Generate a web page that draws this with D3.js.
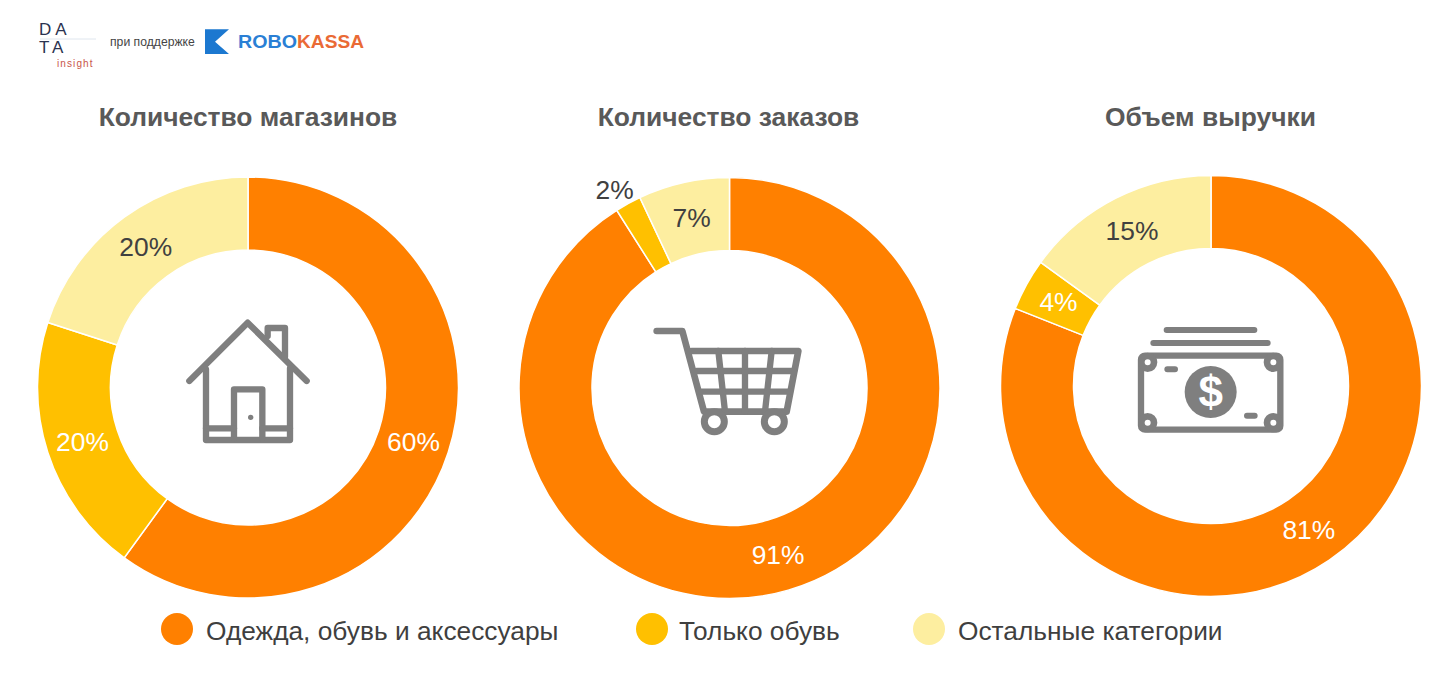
<!DOCTYPE html>
<html>
<head>
<meta charset="utf-8">
<script src="https://cdnjs.cloudflare.com/ajax/libs/d3/7.8.5/d3.min.js"></script>
<style>
    html, body { margin: 0; padding: 0; background: #fff; }
    text { font-family: "Liberation Sans", Arial, sans-serif; }
</style>
</head>
<body>
<svg id="root" width="1453" height="678"></svg>
<script>
const categories = ['Одежда, обувь и аксессуары', 'Только обувь', 'Остальные категории'];
const chartTitles = ['Количество магазинов', 'Количество заказов', 'Объем выручки'];
const shopsValues = [60, 20, 20];
const ordersValues = [91, 2, 7];
const revenueValues = [81, 4, 15];

const width = 1453;
const height = 678;
const outerRadius = 210.5;
const innerRadius = 137.5;
const gray = '#7f7f7f';

const color = d3.scaleOrdinal().domain(categories).range(['#ff8000', '#ffc000', '#fdeea0']);
const labelColor = ['#ffffff', '#ffffff', '#404040'];

const xScale = d3.scalePoint().domain(chartTitles).range([248, 1211]);
const centerY = d3.scaleOrdinal().domain(chartTitles).range([387.5, 388, 386]);
const titleX = d3.scaleOrdinal().domain(chartTitles).range([248, 728.5, 1210.5]);

const pie = d3.pie().sort(null);
const arc = d3.arc().innerRadius(innerRadius).outerRadius(outerRadius);
const outsideArc = d3.arc().innerRadius(226).outerRadius(226);

const svg = d3.select('#root');

function drawDonut(title, values) {
    const g = svg.append('g')
        .attr('class', 'donut')
        .attr('transform', `translate(${xScale(title)}, ${centerY(title)})`);

    const slices = pie(values);

    g.selectAll('path')
        .data(slices)
        .enter().append('path')
        .attr('d', arc)
        .attr('fill', (d, i) => color(categories[i]))
        .attr('stroke', '#fff')
        .attr('stroke-width', 1.5);

    // the 2% slice is too thin, its label sits outside of the ring
    g.selectAll('text')
        .data(slices)
        .enter().append('text')
        .attr('transform', d => {
            const small = d.value < 3;
            const p = small ? outsideArc.centroid(d) : arc.centroid(d);
            return `translate(${p[0] - (small ? 6 : 0)}, ${p[1]})`;
        })
        .attr('text-anchor', 'middle')
        .attr('dy', '0.35em')
        .attr('font-size', 26.4)
        .attr('fill', (d, i) => d.value < 3 ? '#404040' : labelColor[i])
        .text(d => `${d.value}%`);

    svg.append('text')
        .attr('x', titleX(title))
        .attr('y', 126)
        .attr('text-anchor', 'middle')
        .attr('font-size', 26.4)
        .attr('font-weight', 'bold')
        .attr('fill', '#595959')
        .text(title);
}

drawDonut(chartTitles[0], shopsValues);
drawDonut(chartTitles[1], ordersValues);
drawDonut(chartTitles[2], revenueValues);

// icons are traced at 3x, so each group is scaled back down
function iconGroup(x, y) {
    return svg.append('g')
        .attr('transform', `translate(${x}, ${y}) scale(${1 / 3})`)
        .attr('fill', 'none')
        .attr('stroke', gray)
        .attr('stroke-width', 19)
        .attr('stroke-linecap', 'round')
        .attr('stroke-linejoin', 'round');
}

const house = iconGroup(170, 300);
house.append('path').attr('d', 'M58 243 L233 68 L410 243');
house.append('path').attr('d', 'M108 208 V420 H360 V205');
house.append('path').attr('d', 'M192 415 V268 H277 V415');
house.append('path').attr('d', 'M108 385 H192 M277 385 H360');
house.append('path').attr('d', 'M293 108 V84 H345 V170');
house.append('circle').attr('cx', 242).attr('cy', 352).attr('r', 8).attr('fill', gray).attr('stroke', 'none');

const cart = iconGroup(640, 310);
cart.append('path').attr('d', 'M50 63 H127 L192 305 H440 L475 123 H155').attr('stroke-width', 20);
cart.append('path').attr('d', 'M170 183 H462 M185 245 H450');
cart.append('path').attr('d', 'M235 123 L255 305 M315 123 V305 M395 123 L375 305');
[223, 403].forEach(cx => {
    cart.append('circle').attr('cx', cx).attr('cy', 335).attr('r', 30).attr('fill', '#fff').attr('stroke-width', 21);
});

const money = iconGroup(1125, 315);
money.append('path').attr('d', 'M125 45 H388 M85 84 H428').attr('stroke-width', 18);
money.append('rect').attr('x', 48).attr('y', 122).attr('width', 418).attr('height', 222).attr('rx', 12);
[[68, 142], [445, 142], [68, 323], [445, 323]].forEach(c => {
    money.append('circle').attr('cx', c[0]).attr('cy', c[1]).attr('r', 19).attr('fill', '#fff').attr('stroke-width', 20);
});
money.append('path').attr('d', 'M127 163 H150 M366 302 H389').attr('stroke-width', 18);
money.append('circle').attr('cx', 257).attr('cy', 231).attr('r', 78).attr('fill', gray).attr('stroke', 'none');
money.append('text')
    .attr('x', 257).attr('y', 277)
    .attr('text-anchor', 'middle')
    .attr('font-size', 132)
    .attr('font-weight', 'bold')
    .attr('fill', '#fff')
    .attr('stroke', 'none')
    .text('$');

// legend
const legendCircleX = d3.scaleOrdinal().domain(categories).range([177, 652, 929]);
const legendTextX = d3.scaleOrdinal().domain(categories).range([206, 679, 958]);

const legend = svg.selectAll('.legend')
    .data(categories)
    .enter().append('g')
    .attr('class', 'legend');

legend.append('circle')
    .attr('cx', d => legendCircleX(d))
    .attr('cy', 629)
    .attr('r', 16)
    .attr('fill', d => color(d));

legend.append('text')
    .attr('x', d => legendTextX(d))
    .attr('y', 640)
    .attr('font-size', 26.3)
    .attr('fill', '#3f3f3f')
    .text(d => d);

// header logos
const logo = svg.append('g').attr('class', 'logos');

logo.append('text').attr('x', 39).attr('y', 35).attr('font-family', 'Inter').attr('font-size', 17).attr('font-weight', 300).attr('letter-spacing', 4).attr('fill', '#2b3350').text('DA');
logo.append('text').attr('x', 39).attr('y', 53).attr('font-family', 'Inter').attr('font-size', 17).attr('font-weight', 300).attr('letter-spacing', 4).attr('fill', '#2b3350').text('TA');
logo.append('line').attr('x1', 40).attr('x2', 96).attr('y1', 39).attr('y2', 39).attr('stroke', '#dfe6ee').attr('stroke-width', 1);
logo.append('text').attr('x', 57).attr('y', 66.5).attr('font-family', 'Roboto').attr('font-size', 10).attr('letter-spacing', 1.1).attr('fill', '#c8554a').text('insight');
logo.append('text').attr('x', 110).attr('y', 46).attr('font-size', 12.2).attr('fill', '#444').text('при поддержке');

logo.append('path')
    .attr('transform', `translate(20, 10) scale(${1 / 3})`)
    .attr('d', 'M555 58 H627 L585 95 L627 132 H555 Z')
    .attr('fill', '#1c78d0');

logo.append('text').attr('x', 238).attr('y', 48).attr('font-family', 'Inter').attr('font-size', 19).attr('font-weight', 800)
    .attr('textLength', 59).attr('lengthAdjust', 'spacingAndGlyphs').attr('fill', '#2a7fd5').text('ROBO');
logo.append('text').attr('x', 297).attr('y', 48).attr('font-family', 'Inter').attr('font-size', 19).attr('font-weight', 800)
    .attr('textLength', 67).attr('lengthAdjust', 'spacingAndGlyphs').attr('fill', '#ea6a35').text('KASSA');
</script>
</body>
</html>
